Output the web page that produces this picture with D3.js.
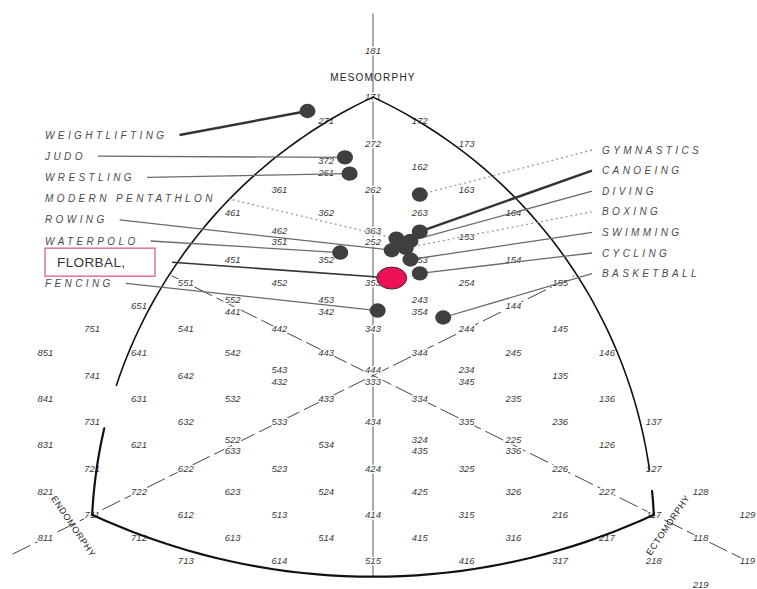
<!DOCTYPE html>
<html><head><meta charset="utf-8">
<script src="https://cdn.jsdelivr.net/npm/d3@7"></script>
<style>body{margin:0;background:#fff}svg{display:block}</style>
</head><body>
<svg id="c" width="757" height="589"></svg>
<script>
// ---- data ----
const gridCodes = [
 "181","171","271","172","272","173","372/261","162","361","262","163",
 "461","362","263","164","462/351","363/252","153","451","352","253","154",
 "551","452","353","254","155","651","552/441","453/342","243/354","144",
 "751","541","442","343","244","145","851","641","542","443","344","245","146",
 "741","642","543/432","444/333","234/345","135",
 "841","631","532","433","334","235","136",
 "731","632","533","434","335","236","137",
 "831","621","522/633","534","324/435","225/336","126",
 "721","622","523","424","325","226","127",
 "821","722","623","524","425","326","227","128",
 "711","612","513","414","315","216","117","129",
 "811","712","613","514","415","316","217","118",
 "713","614","515","416","317","218","119","219"
];
const vertexCodes = ["171","711","117"];
const axisNames = ["MESOMORPHY","ENDOMORPHY","ECTOMORPHY"];

const leftSports = ["WEIGHTLIFTING","JUDO","WRESTLING","MODERN PENTATHLON","ROWING","WATERPOLO","FLORBAL,","FENCING"];
const leftEndo   = [2.6, 2.1, 2.0, 1.9, 2.2, 2.8, 2.4, 2.9];
const leftMeso   = [7.6, 6.5, 6.1, 5.1, 5.1, 5.1, 4.7, 4.35];
const leftEcto   = [1.2, 1.5, 1.5, 2.4, 2.6, 2.1, 2.8, 3.0];

const rightSports = ["GYMNASTICS","CANOEING","DIVING","BOXING","SWIMMING","CYCLING","BASKETBALL"];
const rightEndo   = [1.6, 1.8, 1.9, 2.0, 2.1, 2.0, 2.2];
const rightMeso   = [6.0, 5.4, 5.2, 5.1, 5.0, 4.7, 4.2];
const rightEcto   = [2.6, 2.8, 2.7, 2.7, 2.9, 3.0, 3.7];

const highlight = "FLORBAL,";

// ---- scales ----
const X = d3.scaleLinear().domain([-8, 8]).range([373 - 8*46.8, 373 + 8*46.8]);
const Y = d3.scaleLinear().domain([-9, 14]).range([375.5 + 9*23.2, 375.5 - 14*23.2]);
const unit = (en, me, ec) => [ec - en, 2*me - en - ec];
const pos = (en, me, ec) => { const u = unit(en, me, ec); return [X(u[0]), Y(u[1])]; };
const codePos = c => pos(+c[0], +c[1], +c[2]);

const svg = d3.select("#c");
const FONT = "'Liberation Sans', Arial, sans-serif";

// ---- guide lines (axis + dashed diagonals) ----
const g = svg.append("g");
g.append("line").attr("x1", X(0)).attr("x2", X(0)).attr("y1", Y(15.6)).attr("y2", Y(-8.7))
  .attr("stroke", "#8f8f8f").attr("stroke-width", 1.5);
g.append("line").attr("x1", X(-4.3)).attr("y1", Y(4.3)).attr("x2", X(8)).attr("y2", Y(-8))
  .attr("stroke", "#444").attr("stroke-width", 1).attr("stroke-dasharray", "20,5");
g.append("line").attr("x1", X(-7.7)).attr("y1", Y(-7.7)).attr("x2", X(4.3)).attr("y2", Y(4.3))
  .attr("stroke", "#444").attr("stroke-width", 1).attr("stroke-dasharray", "20,5");

// ---- grid labels ----
const lg = svg.append("g").attr("font-family", FONT).attr("font-size", 9.5)
  .attr("font-style", "italic").attr("fill", "#3a3a3a").attr("text-anchor", "middle");
gridCodes.forEach(s => {
  const parts = s.split("/");
  const p = codePos(parts[0]);
  parts.forEach((c, i) => {
    const off = parts.length === 1 ? 0 : (i === 0 ? -5.8 : 5.8);
    lg.append("text").attr("x", p[0]).attr("y", p[1] + off).attr("dy", "0.35em")
      .attr("stroke", "#fff").attr("stroke-width", 3).attr("paint-order", "stroke")
      .attr("stroke-linejoin", "round").text(c);
  });
});

// ---- boundary arcs ----
const [T, L, R] = vertexCodes.map(codePos);
const G = [(T[0]+L[0]+R[0])/3, (T[1]+L[1]+R[1])/3];
function arcPts(p1, p2, s, f0, f1) {
  const mx = (p1[0]+p2[0])/2, my = (p1[1]+p2[1])/2;
  const dx = p2[0]-p1[0], dy = p2[1]-p1[1], c = Math.hypot(dx, dy), h = c/2;
  let nx = -dy/c, ny = dx/c;
  if ((mx-G[0])*nx + (my-G[1])*ny < 0) { nx = -nx; ny = -ny; }
  const r = (h*h + s*s)/(2*s);
  const cx = mx - nx*(r - s), cy = my - ny*(r - s);
  const a1 = Math.atan2(p1[1]-cy, p1[0]-cx);
  const a2 = Math.atan2(p2[1]-cy, p2[0]-cx);
  let d = a2 - a1;
  while (d > Math.PI) d -= 2*Math.PI;
  while (d < -Math.PI) d += 2*Math.PI;
  return d3.range(0, 41).map(i => { const a = a1 + d*(f0 + (f1-f0)*i/40); return [cx + r*Math.cos(a), cy + r*Math.sin(a)]; });
}
const line = d3.line();
const ag = svg.append("g").attr("fill", "none").attr("stroke", "#111").attr("stroke-linecap", "round");
[[T, L, 70, 0, 0.75, 1.6], [T, L, 70, 0.835, 1, 2.2], [T, R, 70, 0, 0.915, 1.6], [T, R, 70, 0.955, 1, 2.2], [L, R, 62, 0, 1, 2.2]]
  .forEach(a => ag.append("path").attr("d", line(arcPts(a[0], a[1], a[2], a[3], a[4]))).attr("stroke-width", a[5]));

// ---- axis names ----
const an = svg.append("g").attr("font-family", FONT).attr("fill", "#222").attr("text-anchor", "middle");
an.append("text").attr("x", X(0)).attr("y", Y(12) - 16).attr("font-size", 10).attr("letter-spacing", 1.2).text(axisNames[0]);
an.append("text").attr("font-size", 9).attr("letter-spacing", 0.6).attr("dy", "0.35em")
  .attr("transform", `translate(${X(-6.4)},${Y(-6.5)}) rotate(56)`).text(axisNames[1]);
an.append("text").attr("font-size", 9).attr("letter-spacing", 0.6).attr("dy", "0.35em")
  .attr("transform", `translate(${X(6.3)},${Y(-6.45)}) rotate(-56)`).text(axisNames[2]);

// ---- leader styles ----
const leaderStyle = {
  "WEIGHTLIFTING": {w: 2.4, c: "#333"}, "CANOEING": {w: 2.4, c: "#333"},
  "FLORBAL,": {w: 1.6, c: "#333"},
  "MODERN PENTATHLON": {w: 1.3, c: "#999", dash: "2,3"}, "GYMNASTICS": {w: 1.3, c: "#999", dash: "2,3"},
  "BOXING": {w: 1.3, c: "#999", dash: "2,3"}
};
const defStyle = {w: 1.3, c: "#6a6a6a"};

const leadG = svg.append("g").attr("fill", "none");
const dotG = svg.append("g");
const labG = svg.append("g").attr("font-family", FONT);

function drawSide(names, en, me, ec, side) {
  names.forEach((n, i) => {
    const p = pos(en[i], me[i], ec[i]);
    const ly = side === "L" ? 135 + i*21.2 : 150 + i*20.6;
    let x0;
    if (n === highlight) {
      labG.append("rect").attr("x", 45).attr("y", ly - 14).attr("width", 110).attr("height", 28)
        .attr("fill", "#fff").attr("stroke", "#e07aa0").attr("stroke-width", 1.6);
      labG.append("text").attr("x", 57).attr("y", ly).attr("dy", "0.36em").attr("font-size", 13.5)
        .attr("fill", "#333").attr("letter-spacing", 0.4).text(n);
      x0 = 172;
    } else {
      const t = labG.append("text").attr("x", side === "L" ? 45 : 602).attr("y", ly).attr("dy", "0.36em")
        .attr("font-size", 10).attr("font-style", "italic").attr("letter-spacing", 3.4)
        .attr("fill", "#4a4a4a").text(n);
      x0 = side === "L" ? 45 + t.node().getComputedTextLength() + 12 : 592;
    }
    const st = leaderStyle[n] || defStyle;
    leadG.append("line").attr("x1", x0).attr("y1", ly).attr("x2", p[0]).attr("y2", p[1])
      .attr("stroke", st.c).attr("stroke-width", st.w).attr("stroke-dasharray", st.dash || null);
    if (n === highlight) {
      dotG.append("ellipse").attr("cx", p[0]).attr("cy", p[1]).attr("rx", 15).attr("ry", 11)
        .attr("fill", "#ec1258").attr("stroke", "#333").attr("stroke-width", 1);
    } else {
      dotG.append("ellipse").attr("cx", p[0]).attr("cy", p[1]).attr("rx", 8).attr("ry", 7.2)
        .attr("fill", "#3f3f3f");
    }
  });
}
drawSide(leftSports, leftEndo, leftMeso, leftEcto, "L");
drawSide(rightSports, rightEndo, rightMeso, rightEcto, "R");
// keep highlighted marker on top
dotG.selectAll("ellipse").filter(function(){ return d3.select(this).attr("fill") === "#ec1258"; }).raise();
</script>
</body></html>
